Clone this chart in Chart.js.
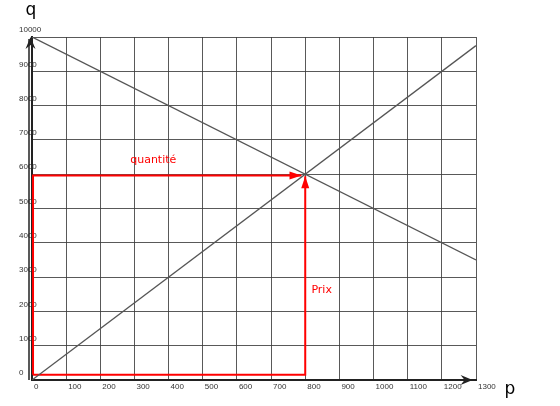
<!DOCTYPE html>
<html>
<head>
<meta charset="utf-8">
<script src="https://cdn.jsdelivr.net/npm/chart.js@4/dist/chart.umd.min.js"></script>
<style>
html,body{margin:0;padding:0;background:#fff;}
#wrap{position:relative;width:560px;height:406px;}
</style>
</head>
<body>
<div id="wrap"><canvas id="c"></canvas></div>
<script>
// ---- data ----
const priceTicks = ['0','100','200','300','400','500','600','700','800','900','1000','1100','1200','1300'];
const qtyTicks = ['0','1000','2000','3000','4000','5000','6000','7000','8000','9000','10000'];

const demandP = [0, 1300];
const demandQ = [10000, 3500];
const supplyP = [0, 1300];
const supplyQ = [0, 9750];

// red construction lines (equilibrium read-off)
const quantiteP = [3, 3, 789];
const quantiteQ = [150, 5960, 5960];
const prixP = [3, 800, 800];
const prixQ = [150, 150, 5940];

const annotations = [
  {text: 'quantité', p: 355, q: 6330, align: 'center'},
  {text: 'Prix', p: 818, q: 2540, align: 'left'}
];

const pts = (xs, ys) => xs.map((x, i) => ({x: x, y: ys[i]}));

const arrowPlugin = {
  id: 'arrows',
  afterDatasetsDraw(chart) {
    const ctx = chart.ctx;
    const xs = chart.scales.x, ys = chart.scales.y;
    const ca = chart.chartArea;
    ctx.save();
    chart.data.datasets.forEach((ds, i) => {
      if (!ds.arrow) return;
      const meta = chart.getDatasetMeta(i);
      const n = meta.data.length;
      const a = meta.data[n - 2], b = meta.data[n - 1];
      const ang = Math.atan2(b.y - a.y, b.x - a.x);
      const L = 12, W = 4;
      ctx.fillStyle = ds.borderColor;
      ctx.beginPath();
      ctx.moveTo(b.x, b.y);
      ctx.lineTo(b.x - L * Math.cos(ang) - W * Math.sin(ang), b.y - L * Math.sin(ang) + W * Math.cos(ang));
      ctx.lineTo(b.x - L * Math.cos(ang) + W * Math.sin(ang), b.y - L * Math.sin(ang) - W * Math.cos(ang));
      ctx.closePath();
      ctx.fill();
    });
    ctx.strokeStyle = '#222';
    ctx.fillStyle = '#222';
    ctx.lineWidth = 1.5;
    ctx.beginPath();
    ctx.moveTo(ca.left - 3, ca.bottom);
    ctx.lineTo(ca.left - 3, ca.top + 2);
    ctx.stroke();
    const tx = ca.left - 1.5, ty = ca.top;
    ctx.beginPath();
    ctx.moveTo(tx, ty);
    ctx.lineTo(tx - 5, ty + 12);
    ctx.lineTo(tx, ty + 8);
    ctx.lineTo(tx + 5, ty + 12);
    ctx.closePath();
    ctx.fill();
    const ax = xs.getPixelForValue(1290), ay = ca.bottom;
    ctx.beginPath();
    ctx.moveTo(ax, ay);
    ctx.lineTo(ax - 12, ay - 5);
    ctx.lineTo(ax - 8, ay);
    ctx.lineTo(ax - 12, ay + 5);
    ctx.closePath();
    ctx.fill();
    ctx.fillStyle = '#ff0000';
    ctx.font = '11px "DejaVu Sans"';
    ctx.textBaseline = 'alphabetic';
    annotations.forEach(an => {
      ctx.textAlign = an.align;
      ctx.fillText(an.text, xs.getPixelForValue(an.p), ys.getPixelForValue(an.q));
    });
    ctx.fillStyle = '#000';
    ctx.font = '17px "DejaVu Sans"';
    ctx.textAlign = 'center';
    ctx.fillText('q', ca.left - 1, 15);
    ctx.fillText('p', ca.right + 34, ca.bottom + 14);
    ctx.restore();
  }
};

new Chart(document.getElementById('c'), {
  type: 'scatter',
  data: {
    datasets: [
      {label: 'demande', data: pts(demandP, demandQ), showLine: true, borderColor: '#555', borderWidth: 1.3, pointRadius: 0},
      {label: 'offre', data: pts(supplyP, supplyQ), showLine: true, borderColor: '#555', borderWidth: 1.3, pointRadius: 0},
      {label: 'quantité', data: pts(quantiteP, quantiteQ), showLine: true, borderColor: '#ff0000', borderWidth: 2, pointRadius: 0, arrow: true},
      {label: 'Prix', data: pts(prixP, prixQ), showLine: true, borderColor: '#ff0000', borderWidth: 2, pointRadius: 0, arrow: true}
    ]
  },
  options: {
    responsive: true,
    maintainAspectRatio: false,
    animation: false,
    devicePixelRatio: 1,
    layout: {padding: {left: 32, top: 37, right: 84, bottom: 10}},
    plugins: {legend: {display: false}, tooltip: {enabled: false}},
    scales: {
      x: {
        type: 'linear', min: 0, max: 1300,
        afterFit(s) { s.height = 16; },
        ticks: {
          stepSize: 100, align: 'start', labelOffset: 2, padding: 2,
          color: '#333', font: {family: '"Liberation Sans"', size: 8},
          callback: (v, i) => priceTicks[i]
        },
        grid: {color: 'rgba(60,60,60,0.85)', lineWidth: 1, drawTicks: false},
        border: {display: true, color: '#222', width: 2}
      },
      y: {
        type: 'linear', min: 0, max: 10000,
        afterFit(s) { s.width = 0; },
        ticks: {
          stepSize: 1000, mirror: true, labelOffset: -7, padding: -13,
          color: '#333', font: {family: '"Liberation Sans"', size: 8},
          callback: (v, i) => qtyTicks[i]
        },
        grid: {color: 'rgba(60,60,60,0.85)', lineWidth: 1, drawTicks: false},
        border: {display: true, color: '#222', width: 2}
      }
    }
  },
  plugins: [arrowPlugin]
});
</script>
</body>
</html>
